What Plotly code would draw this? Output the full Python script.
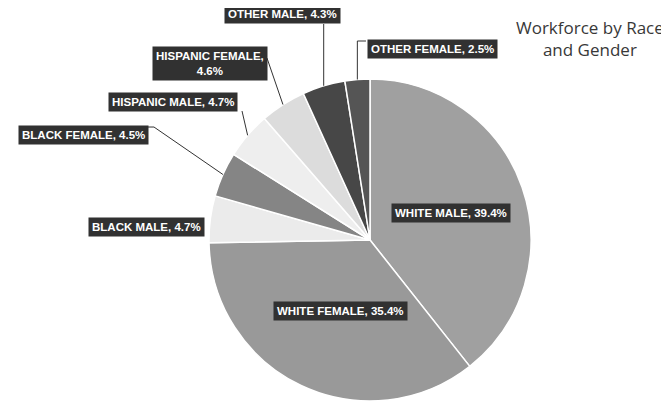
import math
import plotly.graph_objects as go

# ---- data ----
categories = ["WHITE MALE", "WHITE FEMALE", "BLACK MALE", "BLACK FEMALE",
              "HISPANIC MALE", "HISPANIC FEMALE", "OTHER MALE", "OTHER FEMALE"]
shares = [39.4, 35.4, 4.7, 4.5, 4.7, 4.6, 4.3, 2.5]
slice_colors = ["#a0a0a0", "#999999", "#ebebeb", "#858585",
                "#eeeeee", "#dcdcdc", "#474747", "#555555"]
title_text = "Workforce by Race<br>and Gender"

W, H = 669, 401
PAGE_OFF = 8  # default page body margin of the html page
CX, CY, R = 370, 240, 161  # pie centre / radius in screen pixels


def px2paper(x, y):
    return (x - PAGE_OFF) / W, 1 - (y - PAGE_OFF) / H


x0, y1 = px2paper(CX - R, CY - R)
x1, y0 = px2paper(CX + R, CY + R)

fig = go.Figure(go.Pie(
    labels=categories, values=shares, sort=False, direction="clockwise",
    rotation=0, marker=dict(colors=slice_colors, line=dict(color="white", width=1.5)),
    textinfo="none", hoverinfo="label+percent", showlegend=False,
    domain=dict(x=[x0, x1], y=[y0, y1]),
))

total = sum(shares)
mid_angles = []
cum = 0
for v in shares:
    mid_angles.append((cum + v / 2) / total * 2 * math.pi)
    cum += v


def edge_pt(i, rr=R):
    a = mid_angles[i]
    return CX + rr * math.sin(a), CY - rr * math.cos(a)


# label box centres (screen pixels) -- layout choices
label_pos = {
    0: (451, 213), 1: (340, 311), 2: (146, 227), 3: (83, 135),
    4: (173, 102), 5: (210, 63), 6: (282, 14), 7: (432, 49),
}
annotations = []
for i, name in enumerate(categories):
    txt = f"{name}, {shares[i]}%"
    if i == 5:
        txt = f"{name},<br>{shares[i]}%"
    x, y = px2paper(*label_pos[i])
    annotations.append(dict(
        x=x, y=y, xref="paper", yref="paper", showarrow=False,
        xanchor="center", yanchor="middle",
        text=f"<b>{txt}</b>", align="center",
        font=dict(family="Liberation Sans Narrow, Arial Narrow, sans-serif", size=11.5, color="white"),
        bgcolor="#313131", borderpad=3,
    ))

tx, ty = px2paper(590, 39)
annotations.append(dict(
    x=tx, y=ty, xref="paper", yref="paper", showarrow=False,
    xanchor="center", yanchor="middle",
    text=title_text, align="center",
    font=dict(family="Open Sans, sans-serif", size=17, color="#383838"),
))


# leader lines: from slice edge to label box
def path(points):
    pts = [px2paper(*p) for p in points]
    return "M " + " L ".join(f"{x:.4f},{y:.4f}" for x, y in pts)


shapes = []
p6 = edge_pt(6)
p7 = edge_pt(7)
p5 = edge_pt(5)
p4 = edge_pt(4)
p3 = edge_pt(3)
leaders = [
    [p6, (p6[0], 24)],
    [p7, (p7[0], 41), (366, 41)],
    [p5, (267, 58)],
    [p4, (242, 111)],
    [p3, (154, 127), (148, 127)],
]
for pts in leaders:
    shapes.append(dict(type="path", path=path(pts), xref="paper", yref="paper",
                       line=dict(color="#333333", width=1)))

fig.update_layout(
    width=W, height=H, margin=dict(l=0, r=0, t=0, b=0),
    paper_bgcolor="white", plot_bgcolor="white",
    annotations=annotations, shapes=shapes,
)

fig.write_html("out.html")
